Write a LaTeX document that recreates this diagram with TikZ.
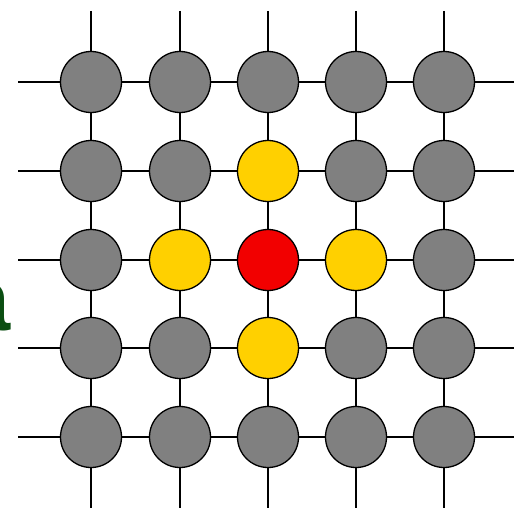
\documentclass[tikz,border=0pt]{standalone}
\usepackage{fontspec}
\setmainfont{Liberation Sans}
\definecolor{nodegray}{HTML}{808080}
\definecolor{nodeyellow}{HTML}{FFD000}
\definecolor{nodered}{HTML}{F20000}
\definecolor{agreen}{HTML}{0B4E12}
\begin{document}
\begin{tikzpicture}[x=1pt,y=-1pt,
  cell/.style={circle,draw=black,line width=1.3pt,minimum size=61pt,inner sep=0pt,fill=nodegray},
  hot/.style={cell,fill=nodered},
  near/.style={cell,fill=nodeyellow},
  link/.style={line width=1.5pt,black}]
\useasboundingbox (0,0) rectangle (514,508);
\clip (0,0) rectangle (514,508);
\def\xs{{91,180,268,356,444}}
\def\ys{{82,171,260,348,437}}
\foreach \i in {1,...,5}{
  \foreach \j in {1,...,5}{
    \pgfmathsetmacro\px{\xs[\j-1]}
    \pgfmathsetmacro\py{\ys[\i-1]}
    \def\kind{cell}
    \ifnum\i\j=23 \def\kind{near}\fi
    \ifnum\i\j=32 \def\kind{near}\fi
    \ifnum\i\j=34 \def\kind{near}\fi
    \ifnum\i\j=43 \def\kind{near}\fi
    \ifnum\i\j=33 \def\kind{hot}\fi
    \node[\kind] (n\i\j) at (\px,\py) {};
  }
}
\foreach \i in {1,...,5}{
  \pgfmathsetmacro\py{\ys[\i-1]}
  \coordinate (l\i) at (18,\py);
  \coordinate (r\i) at (514,\py);
  \draw[link] (l\i) -- (n\i1) (n\i5) -- (r\i);
  \foreach \j/\k in {1/2,2/3,3/4,4/5}{
    \draw[link] (n\i\j) -- (n\i\k);
  }
}
\foreach \j in {1,...,5}{
  \pgfmathsetmacro\px{\xs[\j-1]}
  \coordinate (t\j) at (\px,11);
  \coordinate (b\j) at (\px,508);
  \draw[link] (t\j) -- (n1\j) (n5\j) -- (b\j);
  \foreach \i/\k in {1/2,2/3,3/4,4/5}{
    \draw[link] (n\i\j) -- (n\k\j);
  }
}
\node[anchor=base east,inner sep=0pt,text=agreen,font=\fontsize{90}{90}\selectfont\bfseries] (lbl) at (11,330) {a};
\end{tikzpicture}
\end{document}
